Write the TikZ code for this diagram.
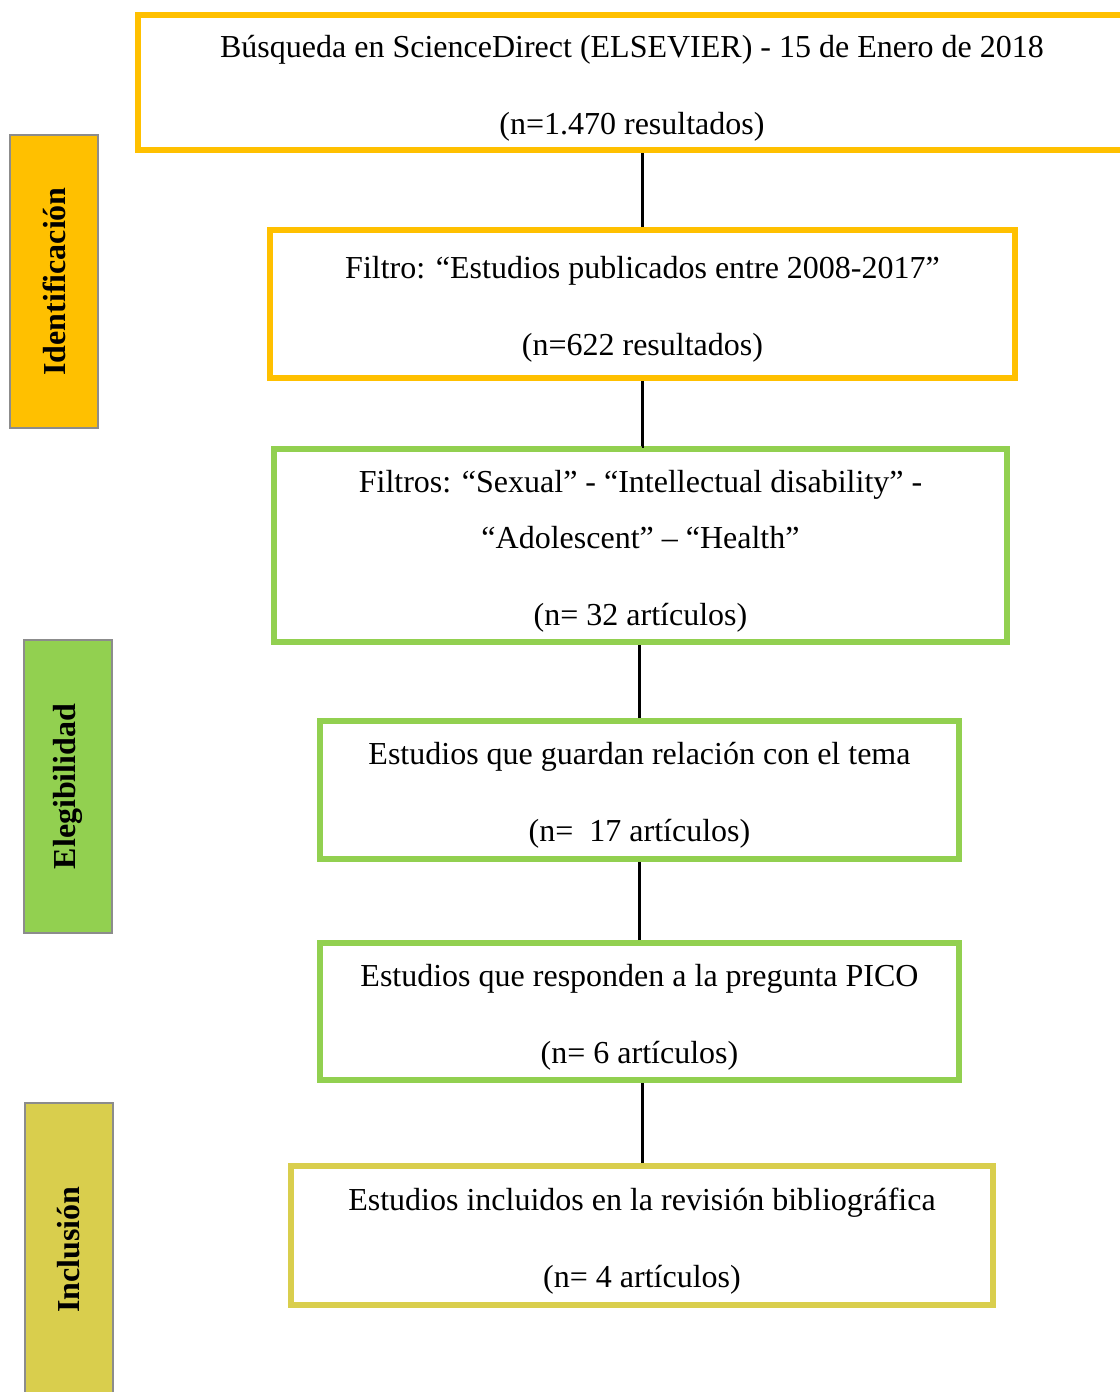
\documentclass[tikz,border=0pt]{standalone}
\usepackage{fontspec}
\setmainfont{Liberation Serif}
\definecolor{prgold}{HTML}{FFC000}
\definecolor{prgreen}{HTML}{92D050}
\definecolor{prolive}{HTML}{D9CE4D}
\definecolor{prgray}{HTML}{8C8C8C}
\newlength\px
\setlength\px{0.375pt}
\newcommand\lift{\rule{0pt}{12.5pt}}

\begin{document}
\begin{tikzpicture}[x=0.375pt,y=-0.375pt,
    stage/.style={draw,line width=6\px,align=center,inner sep=0pt,
      font=\fontsize{12}{21}\selectfont},
    phase/.style={draw=prgray,line width=2\px,rotate=90,inner sep=0pt,
      minimum width=293\px,minimum height=88\px,
      font=\bfseries\fontsize{12}{14}\selectfont},
    link/.style={line width=3\px}]

  \useasboundingbox (0,0) rectangle (1120,1392);

  % --- phase labels ---
  \node[phase,fill=prgold]  (ident) at (54,281.5)  {Identificación};
  \node[phase,fill=prgreen] (eleg)  at (68,786.5)  {Elegibilidad};
  \node[phase,fill=prolive] (incl)  at (69,1249.5) {Inclusión};

  % --- flow boxes ---
  \node[stage,draw=prgold,minimum width=988\px,minimum height=135\px]
    (search) at (632,82.5)
    {\lift Búsqueda en ScienceDirect (ELSEVIER) - 15 de Enero de 2018\\[8pt]
     (n=1.470 resultados)};
  \node[stage,draw=prgold,minimum width=745\px,minimum height=148\px]
    (years) at (642.5,304)
    {\lift Filtro: “Estudios publicados entre 2008-2017”\\[8pt]
     (n=622 resultados)};
  \node[stage,draw=prgreen,minimum width=733\px,minimum height=193\px]
    (terms) at (640.5,545.5)
    {\lift Filtros: “Sexual” - “Intellectual disability” -\\
     “Adolescent” – “Health”\\[8pt]
     (n= 32 artículos)};
  \node[stage,draw=prgreen,minimum width=639\px,minimum height=138\px]
    (topic) at (639.5,790)
    {\lift Estudios que guardan relación con el tema\\[8pt]
     (n=\ \ 17 artículos)};
  \node[stage,draw=prgreen,minimum width=639\px,minimum height=137\px]
    (pico) at (639.5,1011.5)
    {\lift Estudios que responden a la pregunta PICO\\[8pt]
     (n= 6 artículos)};
  \node[stage,draw=prolive,minimum width=702\px,minimum height=139\px]
    (final) at (642,1235.5)
    {\lift Estudios incluidos en la revisión bibliográfica\\[8pt]
     (n= 4 artículos)};

  % --- connectors ---
  \draw[link] (years.north) -- (years.north |- search.south);
  \draw[link] (terms.north) ++(1.5,0) -- (terms.north -| years.south) -- (years.south);
  \draw[link] (topic.north) -- (topic.north |- terms.south);
  \draw[link] (pico.north)  -- (pico.north |- topic.south);
  \draw[link] (final.north) -- (final.north |- pico.south);

\end{tikzpicture}
\end{document}
